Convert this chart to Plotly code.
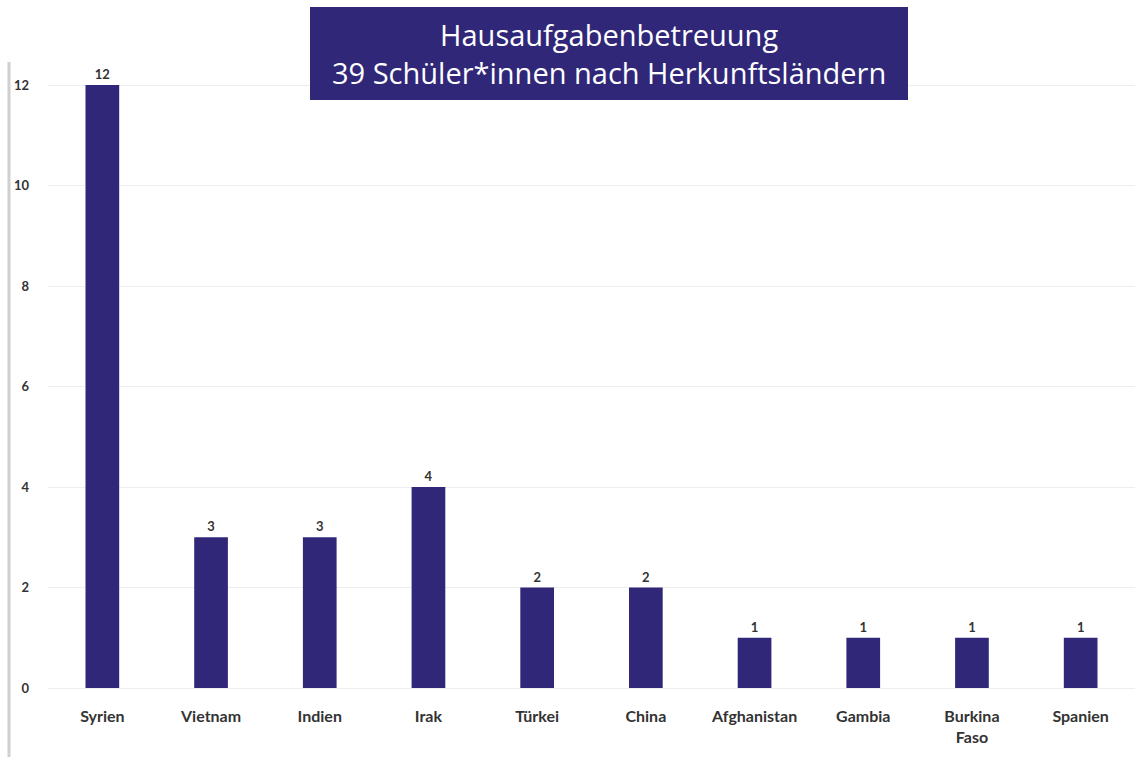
import plotly.graph_objects as go

countries = ["Syrien", "Vietnam", "Indien", "Irak", "Türkei", "China",
             "Afghanistan", "Gambia", "Burkina<br>Faso", "Spanien"]
students = [12, 3, 3, 4, 2, 2, 1, 1, 1, 1]
y_ticks = [0, 2, 4, 6, 8, 10, 12]

title_text = "Hausaufgabenbetreuung<br>39 Schüler*innen nach Herkunftsländern"

W, H = 1135, 757
ml, mr, mt, mb = 48, 0, 60, 69

fig = go.Figure(go.Bar(
    x=countries, y=students,
    marker=dict(color="#312779", line=dict(width=0)),
    text=students, textposition="outside", cliponaxis=False,
    textfont=dict(family="Lato", size=13, color="#333333", weight="bold"),
))

fig.update_layout(
    width=W, height=H,
    margin=dict(l=ml, r=mr, t=mt, b=mb),
    paper_bgcolor="white", plot_bgcolor="white",
    bargap=0.69, showlegend=False,
    xaxis=dict(showgrid=False, showline=False, ticks="",
               tickfont=dict(family="Lato", size=16, color="#333333", weight="bold"),
               ticklabelstandoff=17),
    yaxis=dict(range=[0, 12.5], tickvals=y_ticks, showgrid=True,
               gridcolor="#eeeeee", gridwidth=1, zeroline=True,
               zerolinecolor="#eeeeee", zerolinewidth=1, showline=False, ticks="",
               ticklabelstandoff=18,
               tickfont=dict(family="Lato", size=13, color="#333333", weight="bold")),
    shapes=[
        dict(type="rect", xref="paper", yref="paper",
             x0=(310 - ml) / (W - ml - mr), x1=(908 - ml) / (W - ml - mr),
             y0=(H - mb - 100) / (H - mt - mb), y1=(H - mb - 7) / (H - mt - mb),
             fillcolor="#312779", line=dict(width=0), layer="above"),
        dict(type="line", xref="paper", yref="paper",
             x0=(9 - ml) / (W - ml - mr), x1=(9 - ml) / (W - ml - mr),
             y0=(H - mb - 757) / (H - mt - mb), y1=(H - mb - 62) / (H - mt - mb),
             line=dict(color="#d0d0d0", width=3)),
    ],
    annotations=[
        dict(text=title_text, xref="paper", yref="paper",
             x=(609 - ml) / (W - ml - mr), y=(H - mb - 54) / (H - mt - mb),
             xanchor="center", yanchor="middle", showarrow=False,
             font=dict(family="Open Sans", size=29, color="white"),
             align="center"),
    ],
)

fig.write_html("out.html", config={"displayModeBar": False},
               post_script="document.body.style.margin='0';")
